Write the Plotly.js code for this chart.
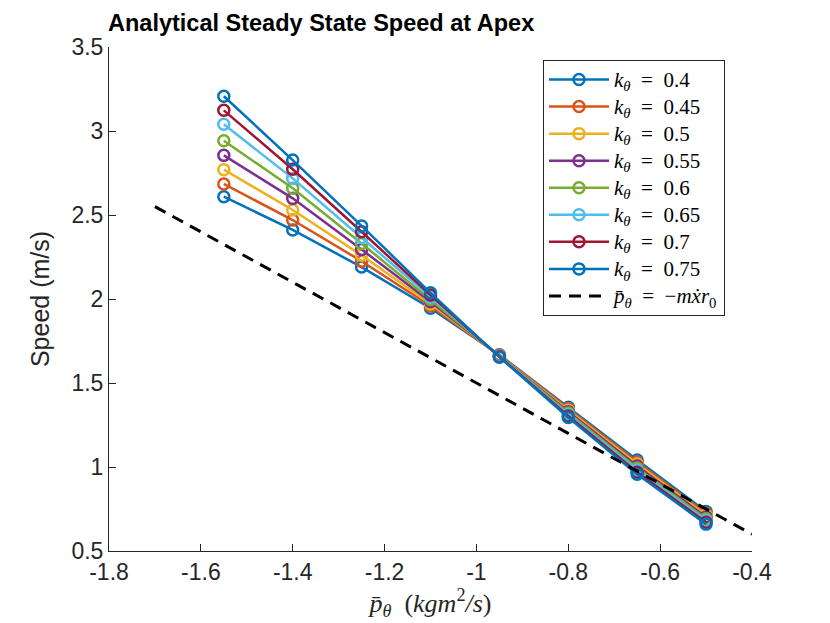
<!DOCTYPE html>
<html>
<head>
<meta charset="utf-8">
<script src="https://cdn.plot.ly/plotly-3.0.1.min.js"></script>
<style>
  html, body { margin: 0; padding: 0; background: #fff; }
  #chart { width: 830px; height: 623px; }
</style>
</head>
<body>
<div id="chart"></div>
<script>
// momentum values on the x axis
const pTheta = [-1.55, -1.4, -1.25, -1.1, -0.95, -0.8, -0.65, -0.5];

// speed at apex for each k_theta
const kValues = ["0.4", "0.45", "0.5", "0.55", "0.6", "0.65", "0.7", "0.75"];
const speedK040 = [2.609, 2.411, 2.19, 1.945, 1.668, 1.355, 1.042, 0.735];
const speedK045 = [2.685, 2.47, 2.225, 1.958, 1.666, 1.347, 1.03, 0.724];
const speedK050 = [2.77, 2.53, 2.26, 1.971, 1.664, 1.338, 1.018, 0.713];
const speedK055 = [2.855, 2.599, 2.295, 1.984, 1.662, 1.329, 1.006, 0.702];
const speedK060 = [2.942, 2.659, 2.33, 1.997, 1.66, 1.321, 0.994, 0.692];
const speedK065 = [3.04, 2.718, 2.365, 2.01, 1.658, 1.312, 0.982, 0.681];
const speedK070 = [3.123, 2.772, 2.40, 2.024, 1.656, 1.304, 0.969, 0.671];
const speedK075 = [3.207, 2.827, 2.435, 2.037, 1.654, 1.295, 0.957, 0.66];

// reference line p = -m xdot r0
const refX = [-1.7, -0.4];
const refY = [2.55, 0.6];

const xTickVals = [-1.8, -1.6, -1.4, -1.2, -1, -0.8, -0.6, -0.4];
const xTickText = ["-1.8", "-1.6", "-1.4", "-1.2", "-1", "-0.8", "-0.6", "-0.4"];
const yTickVals = [0.5, 1, 1.5, 2, 2.5, 3, 3.5];
const yTickText = ["0.5", "1", "1.5", "2", "2.5", "3", "3.5"];

const colors = ["#0072BD", "#D95319", "#EDB120", "#7E2F8E", "#77AC30", "#4DBEEE", "#A2142F", "#0072BD"];
const allSpeeds = [speedK040, speedK045, speedK050, speedK055, speedK060, speedK065, speedK070, speedK075];

// bigger glyphs inside the legend, row height still set by legend.font.size
const big = (s) => "<span style='font-size:21px'>" + s + "</span>";

const data = allSpeeds.map((ys, i) => ({
  x: pTheta,
  y: ys,
  type: "scatter",
  mode: "lines+markers",
  name: big("<i>k</i><sub><i>θ</i></sub>\u2002=\u2002" + kValues[i]),
  line: { color: colors[i], width: 2.5 },
  marker: {
    symbol: "circle-open",
    size: 11,
    color: colors[i],
    line: { color: colors[i], width: 2.5 },
  },
}));

data.push({
  x: refX,
  y: refY,
  type: "scatter",
  mode: "lines",
  name: big("<i>p\u0304</i><sub><i>θ</i></sub>\u2002=\u2002−<i>mx\u0307r</i><sub>0</sub>"),
  line: { color: "#000000", width: 3, dash: "12px,8px" },
});

const axisFont = { family: "Liberation Sans, Arial, sans-serif", size: 23, color: "#262626" };

const layout = {
  width: 830,
  height: 623,
  margin: { l: 109, r: 78, t: 47, b: 72 },
  paper_bgcolor: "#ffffff",
  plot_bgcolor: "#ffffff",
  showlegend: true,
  title: {
    text: "<b>Analytical Steady State Speed at Apex</b>",
    font: { family: "Liberation Sans, Arial, sans-serif", size: 23.5, color: "#000000" },
    x: 108 / 830,
    xanchor: "left",
    xref: "container",
    y: 1 - 23 / 623,
    yanchor: "middle",
    yref: "container",
  },
  xaxis: {
    range: [-1.8, -0.4],
    tickvals: xTickVals,
    ticktext: xTickText,
    ticks: "inside",
    ticklen: 7,
    tickwidth: 1,
    tickcolor: "#262626",
    tickfont: axisFont,
    showline: true,
    linecolor: "#262626",
    linewidth: 1,
    showgrid: false,
    zeroline: false,
    mirror: false,
    title: {
      text: "<i>p\u0304</i><sub><i>θ</i></sub>\u2002(<i>kgm</i><sup>2</sup><i>/s</i>)",
      font: { family: "Liberation Serif, Times New Roman, serif", size: 26, color: "#262626" },
      standoff: 5,
    },
  },
  yaxis: {
    range: [0.5, 3.5],
    tickvals: yTickVals,
    ticktext: yTickText,
    ticks: "inside",
    ticklen: 7,
    tickwidth: 1,
    tickcolor: "#262626",
    tickfont: axisFont,
    showline: true,
    linecolor: "#262626",
    linewidth: 1,
    showgrid: false,
    zeroline: false,
    mirror: false,
    title: {
      text: "Speed (m/s)",
      font: { family: "Liberation Sans, Arial, sans-serif", size: 25, color: "#262626" },
      standoff: 14,
    },
  },
  legend: {
    x: (543 - 109) / 643,
    y: (551 - 60) / 504,
    xanchor: "left",
    yanchor: "top",
    bgcolor: "#ffffff",
    bordercolor: "#262626",
    borderwidth: 1,
    itemwidth: 60,
    font: { family: "Liberation Serif, Times New Roman, serif", size: 18.5, color: "#000000" },
    tracegroupgap: 0,
  },
};

Plotly.newPlot("chart", data, layout, { displayModeBar: false, staticPlot: true });
</script>
</body>
</html>
